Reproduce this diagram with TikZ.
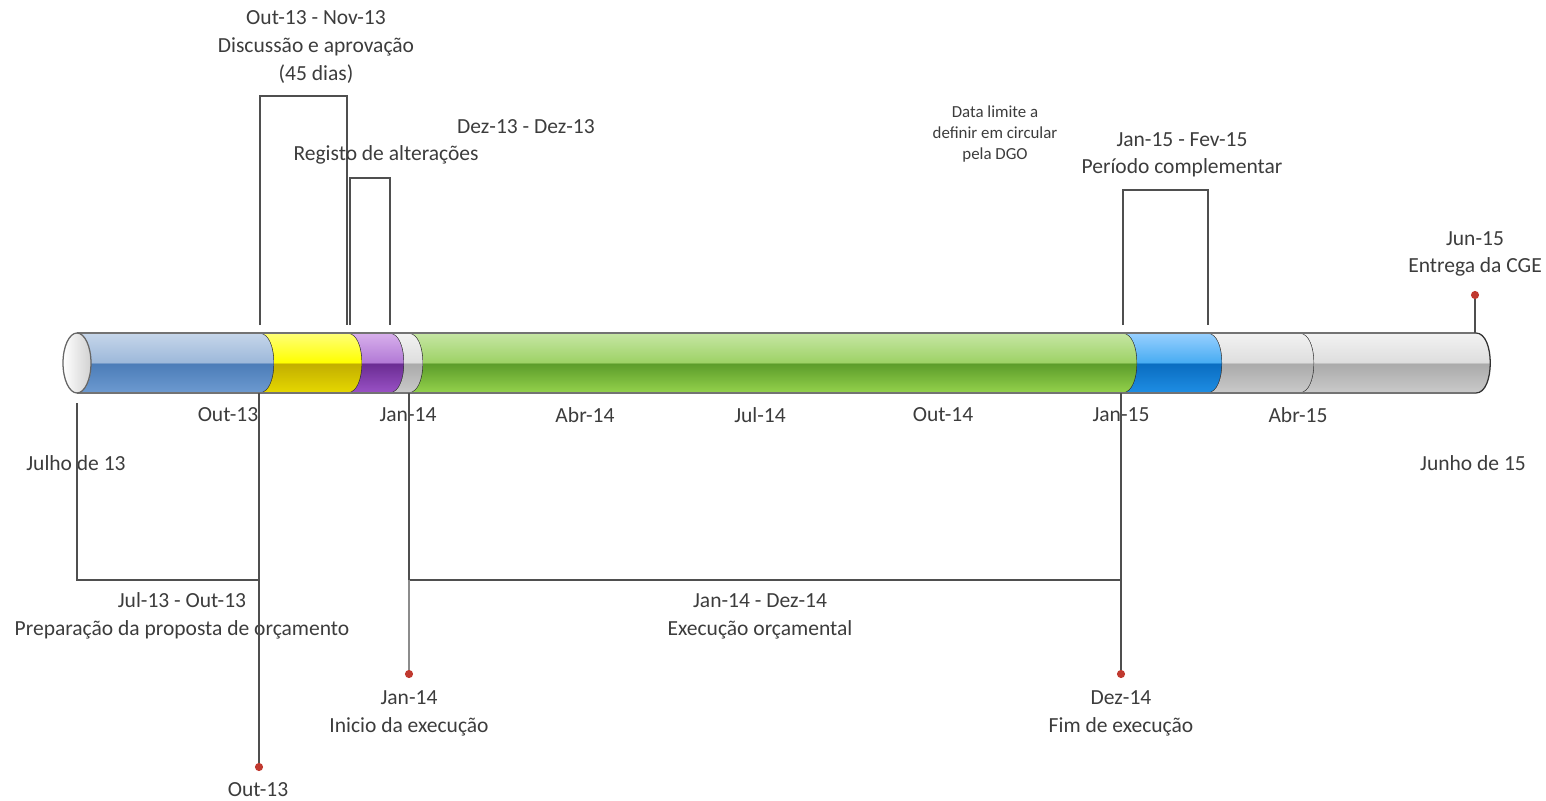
\documentclass[tikz,border=0pt]{standalone}
\usepackage{fontspec}
\setmainfont{Carlito}
\usetikzlibrary{positioning}

\definecolor{textGray}{HTML}{3C3C3C}
\definecolor{lineGray}{HTML}{4F4F4F}
\definecolor{dotRed}{HTML}{C0392F}
% segment colours: top, just above mid, just below mid, bottom
\definecolor{blueTop}{HTML}{C6D6EA}\definecolor{blueHigh}{HTML}{9DB8DA}
\definecolor{blueLow}{HTML}{4B7CB8}\definecolor{blueBot}{HTML}{6D9AD0}
\definecolor{yelTop}{HTML}{FFFF78}\definecolor{yelHigh}{HTML}{FFFF00}
\definecolor{yelLow}{HTML}{C2AE00}\definecolor{yelBot}{HTML}{E6D800}
\definecolor{purTop}{HTML}{D8B0EC}\definecolor{purHigh}{HTML}{B27AD6}
\definecolor{purLow}{HTML}{6A2C92}\definecolor{purBot}{HTML}{9A52C6}
\definecolor{gryTop}{HTML}{F2F2F2}\definecolor{gryHigh}{HTML}{DEDEDE}
\definecolor{gryLow}{HTML}{AAAAAA}\definecolor{gryBot}{HTML}{CACACA}
\definecolor{grnTop}{HTML}{C6E6A4}\definecolor{grnHigh}{HTML}{9ED266}
\definecolor{grnLow}{HTML}{5C9C2A}\definecolor{grnBot}{HTML}{94D24C}
\definecolor{skyTop}{HTML}{98D0FF}\definecolor{skyHigh}{HTML}{48ACF2}
\definecolor{skyLow}{HTML}{0A6CC0}\definecolor{skyBot}{HTML}{1E8EE4}

\newcommand{\SegShading}[2]{%
  \pgfdeclareverticalshading{#1}{100bp}{color(0bp)=(#2Bot); color(25bp)=(#2Bot);
    color(49.6bp)=(#2Low); color(50.4bp)=(#2High); color(75bp)=(#2Top);
    color(100bp)=(#2Top)}}
\SegShading{SegBlue}{blue}
\SegShading{SegYellow}{yel}
\SegShading{SegPurple}{pur}
\SegShading{SegGray}{gry}
\SegShading{SegGreen}{grn}
\SegShading{SegSky}{sky}

% one piece of the bar, from #1 to #2 (top edge x), shading #3
\newcommand{\BarPiece}[3]{%
  \shade[shading=#3] (#1,333) -- (#2,333)
     .. controls ({#2+19},333) and ({#2+19},393) .. (#2,393)
     -- (#1,393) .. controls ({#1+19},393) and ({#1+19},333) .. (#1,333) -- cycle;
  \draw[SegEdge] (#2,333) .. controls ({#2+19},333) and ({#2+19},393) .. (#2,393);}

\begin{document}
\begin{tikzpicture}[x=0.025cm, y=-0.025cm]
  \tikzset{LabelStyle/.style = {text         = textGray,
                                align        = center,
                                inner sep    = 0pt,
                                font         = \fontsize{15.3}{19.8}\selectfont}}
  \tikzset{NoteStyle/.style  = {LabelStyle,
                                font         = \fontsize{12}{14.9}\selectfont}}
  \tikzset{LineStyle/.style  = {draw         = lineGray,
                                line width   = 1.4pt}}
  \tikzset{DotStyle/.style   = {shape        = circle,
                                fill         = dotRed,
                                inner sep    = 0pt,
                                minimum size = 5.8pt}}
  \tikzset{SegEdge/.style    = {draw         = black!80,
                                line width   = 0.9pt}}
  \useasboundingbox (0,0) rectangle (1546,801);

  % the bar
  \BarPiece{77}{260}{SegBlue}
  \BarPiece{260}{348}{SegYellow}
  \BarPiece{348}{390}{SegPurple}
  \BarPiece{390}{409}{SegGray}
  \BarPiece{409}{1123}{SegGreen}
  \BarPiece{1123}{1208}{SegSky}
  \BarPiece{1208}{1300}{SegGray}
  \BarPiece{1300}{1476}{SegGray}
  \draw[draw=black!55, line width=0.9pt] (77,333) -- (1476,333) (77,393) -- (1476,393);
  \draw[draw=black!60, line width=0.9pt, left color=white, right color=black!18]
    (77,363) ellipse [x radius=14, y radius=30];

  % axis labels
  \foreach \xpos/\month in {228/Out-13, 408/Jan-14, 585/Abr-14, 760/Jul-14,
                            943/Out-14, 1121/Jan-15, 1298/Abr-15}
     \node[LabelStyle] at (\xpos,415) {\month};
  \node[LabelStyle] (StartLbl) at (76,463)   {Julho de 13};
  \node[LabelStyle] (EndLbl)   at (1473,463) {Junho de 15};

  % periods above the bar
  \coordinate (DiscL) at (260,325);  \coordinate (DiscTR) at (347,96);
  \coordinate (DiscR) at (347,325);
  \coordinate (RegL)  at (350,325);  \coordinate (RegTR)  at (390,178);
  \coordinate (RegR)  at (390,325);
  \coordinate (CompL) at (1123,325); \coordinate (CompTR) at (1208,190);
  \coordinate (CompR) at (1208,325);
  \draw[LineStyle] (DiscL) |- (DiscTR) -- (DiscR);
  \draw[LineStyle] (RegL) |- (RegTR) -- (RegR);
  \draw[LineStyle] (CompL) |- (CompTR) -- (CompR);

  \node[LabelStyle] (DiscLbl)  at (316,47)   {Out-13 - Nov-13\\Discussão e aprovação\\(45 dias)};
  \node[LabelStyle] (RegDate)  at (526,127)  {Dez-13 - Dez-13};
  \node[LabelStyle] (RegLbl)   at (386,155)  {Registo de alterações};
  \node[NoteStyle]  (LimitLbl) at (995,134)  {Data limite a\\definir em circular\\pela DGO};
  \node[LabelStyle] (CompDate) at (1182,140) {Jan-15 - Fev-15};
  \node[LabelStyle] (CompLbl)  at (1182,168) {Período complementar};

  % delivery of the CGE
  \coordinate (CgeBar) at (1475,333);
  \node[DotStyle] (CgeDot) at (1475,295) {};
  \node[LabelStyle] (CgeLbl) at (1475,254) {Jun-15\\Entrega da CGE};
  \draw[LineStyle] (CgeBar) -- (CgeDot);

  % periods below the bar
  \coordinate (PrepL) at (77,403);   \coordinate (PrepBR) at (259,580);
  \coordinate (PrepR) at (259,393);
  \coordinate (ExecL) at (409,393);  \coordinate (ExecBR) at (1121,580);
  \coordinate (ExecR) at (1121,393);
  \draw[LineStyle] (PrepL) |- (PrepBR);
  \draw[LineStyle] (ExecL) |- (ExecBR);
  \node[LabelStyle] (PrepLbl) at (182,616) {Jul-13 - Out-13\\Preparação da proposta de orçamento};
  \node[LabelStyle] (ExecLbl) at (760,616) {Jan-14 - Dez-14\\Execução orçamental};

  % milestones below the bar
  \node[DotStyle] (OutDot) at (259,767) {};
  \node[DotStyle] (JanDot) at (409,674) {};
  \node[DotStyle] (DezDot) at (1121,674) {};
  \draw[LineStyle] (PrepR) -- (OutDot);
  \draw[LineStyle, draw=black!45] (ExecBR -| ExecL) -- (JanDot);
  \draw[LineStyle] (ExecR) -- (DezDot);
  \node[LabelStyle] (OutLbl) at (258,790)  {Out-13};
  \node[LabelStyle] (JanLbl) at (409,713)  {Jan-14\\Inicio da execução};
  \node[LabelStyle] (DezLbl) at (1121,713) {Dez-14\\Fim de execução};
\end{tikzpicture}
\end{document}
